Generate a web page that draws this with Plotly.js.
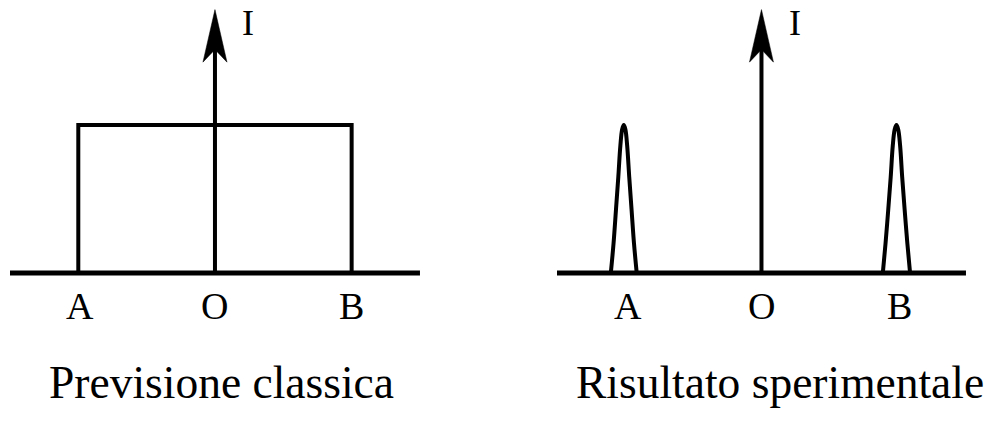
<!DOCTYPE html>
<html>
<head>
<meta charset="utf-8">
<script src="https://cdn.plot.ly/plotly-3.0.1.min.js"></script>
<style>
  body { margin: 0; background: #fff; }
  #myPlot { width: 987px; height: 421px; }
</style>
</head>
<body>
<div id="myPlot"></div>
<script>
// axis line (I = 0) and the I arrow, same in both panels
var baseX = [-1.5, 1.5]
var baseY = [0, 0]
var shaftX = [0, 0]
var shaftY = [0, 1.55]
var headX = [0, 0.088, 0, -0.088, 0]
var headY = [1.78, 1.425, 1.51, 1.425, 1.78]

// Previsione classica: flat intensity between A and B
var classX = [-1, -1, 1, 1]
var classY = [0, 1, 1, 0]

// Risultato sperimentale: two narrow peaks at A and B
var peakAX = [-1.105, -1.085, -1.067, -1.05, -1.035, -1.022, -1.01, -0.998, -0.985, -0.97, -0.953, -0.935, -0.915]
var peakBX = [0.89, 0.91, 0.93, 0.948, 0.963, 0.977, 0.99, 1.003, 1.017, 1.032, 1.05, 1.07, 1.09]
var peakY = [0, 0.2, 0.43, 0.65, 0.86, 0.97, 1, 0.97, 0.86, 0.65, 0.43, 0.2, 0]

// tick labels
var pointNames = ['A', 'O', 'B']
var leftLabelX = [-0.99, 0, 1.0]
var rightLabelX = [-0.98, 0, 1.01]
var panelTitles = ['Previsione classica', 'Risultato sperimentale']

var ink = '#000000'
var serif = 'Liberation Serif, Times New Roman, serif'

function line(x, y, xa, ya, w, shape) {
  return {x: x, y: y, xaxis: xa, yaxis: ya, mode: 'lines', hoverinfo: 'skip',
    line: {color: ink, width: w, shape: shape || 'linear', smoothing: 1}}
}

function head(xa, ya) {
  return {x: headX, y: headY, xaxis: xa, yaxis: ya, mode: 'lines', fill: 'toself',
    fillcolor: ink, hoverinfo: 'skip', line: {color: ink, width: 0.5}}
}

var data = [
  // left panel
  line(classX, classY, 'x', 'y', 4),
  line(baseX, baseY, 'x', 'y', 5),
  line(shaftX, shaftY, 'x', 'y', 4),
  head('x', 'y'),
  // right panel
  line(peakAX, peakY, 'x2', 'y2', 4, 'spline'),
  line(peakBX, peakY, 'x2', 'y2', 4, 'spline'),
  line(baseX, baseY, 'x2', 'y2', 5),
  line(shaftX, shaftY, 'x2', 'y2', 4),
  head('x2', 'y2')
]

var annotations = []
for (var i = 0; i < pointNames.length; i++) {
  annotations.push({x: leftLabelX[i], y: -0.22, xref: 'x', yref: 'y', text: pointNames[i],
    showarrow: false, font: {family: serif, size: 38, color: ink}})
  annotations.push({x: rightLabelX[i], y: -0.22, xref: 'x2', yref: 'y2', text: pointNames[i],
    showarrow: false, font: {family: serif, size: 38, color: ink}})
}
annotations.push({x: 0.245, y: 1.69, xref: 'x', yref: 'y', text: 'I', showarrow: false,
  font: {family: serif, size: 36, color: ink}})
annotations.push({x: 0.245, y: 1.69, xref: 'x2', yref: 'y2', text: 'I', showarrow: false,
  font: {family: serif, size: 36, color: ink}})
annotations.push({x: 0.05, y: -0.74, xref: 'x', yref: 'y', text: panelTitles[0], showarrow: false,
  font: {family: serif, size: 45.5, color: ink}})
annotations.push({x: 0.135, y: -0.74, xref: 'x2', yref: 'y2', text: panelTitles[1], showarrow: false,
  font: {family: serif, size: 45.5, color: ink}})

var hidden = {range: [-1.5, 1.5], visible: false, showgrid: false, zeroline: false, fixedrange: true}
var hiddenY = {range: [-1.0, 1.845], domain: [0, 1], visible: false, showgrid: false, zeroline: false, fixedrange: true}

var layout = {
  width: 987,
  height: 421,
  margin: {l: 0, r: 0, t: 0, b: 0},
  paper_bgcolor: '#ffffff',
  plot_bgcolor: '#ffffff',
  showlegend: false,
  xaxis: Object.assign({domain: [0.0101, 0.4255]}, hidden),
  yaxis: Object.assign({anchor: 'x'}, hiddenY),
  xaxis2: Object.assign({domain: [0.5643, 0.9787], anchor: 'y2'}, hidden),
  yaxis2: Object.assign({anchor: 'x2'}, hiddenY),
  annotations: annotations
}

Plotly.newPlot('myPlot', data, layout, {displayModeBar: false, staticPlot: true})
</script>
</body>
</html>
